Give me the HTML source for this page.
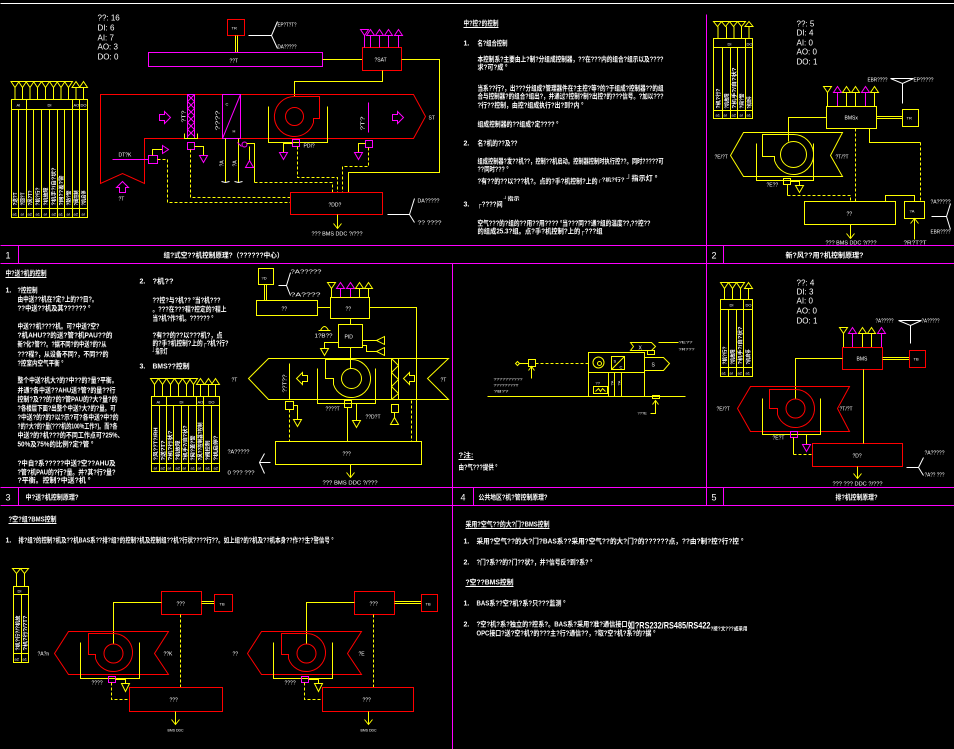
<!DOCTYPE html>
<html><head><meta charset="utf-8"><style>
html,body{margin:0;padding:0;background:#000;}
svg{display:block;}
text{font-family:"Liberation Sans","Noto Sans CJK SC",sans-serif;fill:#fff;}
.b text{font-weight:bold;}
.y{stroke:#ff0;fill:none;stroke-width:1}
.r{stroke:#f00;fill:none;stroke-width:1}
.m{stroke:#f0f;fill:none;stroke-width:1}
.w{stroke:#fff;fill:none;stroke-width:1}
.d{stroke-dasharray:3,2}
.fm{fill:#f0f;stroke:none}
</style></head><body>
<svg width="954" height="749" viewBox="0 0 954 749" xmlns="http://www.w3.org/2000/svg">
<rect width="954" height="749" fill="#000"/>
<g transform="translate(0.5,0.5)">

<!-- ===== FRAME ===== -->
<line x1="0" y1="3" x2="954" y2="3" class="w"/>
<g class="m">
<line x1="0" y1="245" x2="954" y2="245"/>
<line x1="0" y1="263" x2="954" y2="263"/>
<line x1="0" y1="487" x2="954" y2="487"/>
<line x1="0" y1="505" x2="954" y2="505"/>
<line x1="18" y1="245" x2="18" y2="263"/>
<line x1="18" y1="487" x2="18" y2="505"/>
<line x1="706" y1="14" x2="706" y2="505"/>
<line x1="723" y1="245" x2="723" y2="263"/>
<line x1="723" y1="487" x2="723" y2="505"/>
<line x1="452" y1="263" x2="452" y2="749"/>
<line x1="473" y1="487" x2="473" y2="505"/>
</g>
<g font-size="9">
<text x="5" y="258">1</text>
<text x="711" y="258">2</text>
<text x="5" y="500">3</text>
<text x="460" y="500">4</text>
<text x="711" y="500">5</text>
</g>
<g font-size="7" class="b">
<text x="163" y="257" textLength="120" lengthAdjust="spacingAndGlyphs">组?式空??机控制原理?（??????中心）</text>
<text x="785" y="257" textLength="78" lengthAdjust="spacingAndGlyphs">新?风??用?机控制原理?</text>
<text x="25" y="499" textLength="53" lengthAdjust="spacingAndGlyphs">中?送?机控制原理?</text>
<text x="478" y="499" textLength="69" lengthAdjust="spacingAndGlyphs">公共地区?机?管控制原理?</text>
<text x="835" y="499" textLength="42" lengthAdjust="spacingAndGlyphs">排?机控制原理?</text>
</g>

<!-- ===== PANEL 1 ===== -->
<g font-size="8">
<text x="97" y="20">??: 16</text>
<text x="97" y="30">DI: 6</text>
<text x="97" y="40">AI: 7</text>
<text x="97" y="49">AO: 3</text>
<text x="97" y="59">DO: 0</text>
</g>
<rect x="227" y="19" width="17" height="16" class="r"/>
<text x="231" y="29" font-size="4">TR</text>
<line x1="235" y1="35" x2="235" y2="52" class="y"/>
<line x1="237" y1="35" x2="237" y2="52" class="y"/>
<line x1="248" y1="35" x2="271" y2="35" class="w"/>
<polyline points="277,21 271,35 277,48" class="w"/>
<text x="277" y="26" font-size="5" textLength="19" lengthAdjust="spacingAndGlyphs">EP?T?T?</text>
<text x="277" y="48" font-size="5" textLength="19" lengthAdjust="spacingAndGlyphs">DA?????</text>
<rect x="148" y="52" width="174" height="14" class="m"/>
<text x="229" y="62" font-size="5">??T</text>
<line x1="322" y1="59" x2="362" y2="59" class="y"/>
<rect x="362" y="47" width="39" height="23" class="r"/>
<text x="374" y="61" font-size="5">?SAT</text>
<g class="m">
<polygon points="360,29 368,29 364,35"/>
<polygon points="366,35 374,35 370,29"/>
<polygon points="375,35 383,35 379,29"/>
<polygon points="384,35 392,35 388,29"/>
<polygon points="394,35 402,35 398,29"/>
<line x1="364" y1="35" x2="364" y2="47"/>
<line x1="370" y1="35" x2="370" y2="47"/>
<line x1="379" y1="35" x2="379" y2="47"/>
<line x1="388" y1="35" x2="388" y2="47"/>
<line x1="398" y1="35" x2="398" y2="47"/>
</g>
<polyline points="401,59 439,59 439,172 348,172 348,192" class="y"/>
<polyline points="382,70 382,81 294,81 294,96" class="y"/>
<!-- AHU -->
<polygon points="413,94 100,94 100,183 122,173 144,183 144,138 413,138 425,116" class="r"/>
<rect x="187" y="94" width="7" height="44" class="m"/>
<polyline points="187,94 194,101 187,108 194,115 187,122 194,129 187,136" class="m"/>
<polyline points="194,94 187,101 194,108 187,115 194,122 187,129 194,136" class="m"/>
<polyline points="184,133 184,138 197,138 197,133" class="y"/>
<text transform="translate(185,122) rotate(-90)" font-size="5" textLength="12" lengthAdjust="spacingAndGlyphs">?T?</text>
<rect x="222" y="94" width="18" height="44" class="m"/>
<line x1="222" y1="138" x2="240" y2="94" class="m"/>
<text x="225" y="105" font-size="4">C</text>
<text x="232" y="132" font-size="4">H</text>
<text transform="translate(219,130) rotate(-90)" font-size="5" textLength="20" lengthAdjust="spacingAndGlyphs">????</text>
<circle cx="294" cy="116" r="9" class="r"/>
<path d="M294,96 L319,96 L319,118 L313,118 L313,122" class="r"/>
<path d="M294,96 A20,20 0 1 0 313,122" class="r"/>
<polyline points="268,106 268,142 327,142 327,106" class="y"/>
<polygon points="159,114 164,114 164,111 170,117 164,123 164,120 159,120" class="m"/>
<polygon points="392,114 397,114 397,111 403,117 397,123 397,120 392,120" class="m"/>
<polygon points="119,192 119,187 116,187 122,181 128,187 125,187 125,192" class="m"/>
<text x="118" y="200" font-size="5">?T</text>
<text x="428" y="119" font-size="5">ST</text>
<line x1="368" y1="102" x2="368" y2="132" class="m" stroke-width="1.5"/>
<text transform="translate(364,130) rotate(-90)" font-size="5" textLength="14" lengthAdjust="spacingAndGlyphs">?T?</text>
<rect x="365" y="140" width="7" height="7" class="m"/>
<polyline points="365,143 358,143 358,152" class="y"/>
<polygon points="354,152 362,152 358,159" class="m"/>
<polyline points="368,147 368,166 342,166 342,192" class="y d"/>
<!-- coil lines -->
<line x1="225" y1="138" x2="225" y2="182" class="y"/>
<line x1="238" y1="138" x2="238" y2="182" class="y"/>
<polyline points="221,181 225,182 229,181" class="w"/>
<polyline points="234,181 238,182 242,181" class="w"/>
<text transform="translate(223,166) rotate(-90)" font-size="5">?A</text>
<text transform="translate(236,166) rotate(-90)" font-size="5">?A</text>
<circle cx="244" cy="144" r="2.5" class="m"/>
<line x1="237" y1="142" x2="241" y2="146" class="m"/>
<polyline points="246,143 254,143 254,182" class="y"/>
<polyline points="254,182 332,182 332,192" class="y d"/>
<line x1="249" y1="146" x2="249" y2="160" class="y"/>
<polygon points="245,167 253,167 249,160" class="m"/>
<!-- dP fan -->
<rect x="292" y="139" width="7" height="7" class="m"/>
<text x="303" y="147" font-size="5">PDI?</text>
<polyline points="292,143 283,143 283,152" class="y"/>
<polygon points="279,152 287,152 283,159" class="m"/>
<polyline points="297,146 297,177 337,177 337,192" class="y d"/>
<!-- AP -->
<rect x="187" y="142" width="7" height="7" class="m"/>
<polyline points="194,146 203,146 203,155" class="y"/>
<polygon points="199,155 207,155 203,162" class="m"/>
<polyline points="190,149 190,197 290,197" class="y d"/>
<!-- T -->
<rect x="148" y="155" width="9" height="8" class="m"/>
<line x1="112" y1="159" x2="148" y2="159" class="m"/>
<text x="118" y="156" font-size="5">DT?K</text>
<polyline points="152,155 152,149 162,149" class="y"/>
<polygon points="162,145 162,153 168,149" class="m"/>
<polyline points="157,159 167,159 167,202 290,202" class="y d"/>
<rect x="290" y="192" width="92" height="22" class="r"/>
<text x="328" y="206" font-size="5">?DD?</text>
<line x1="337" y1="214" x2="337" y2="228" class="y"/>
<polyline points="333,223 337,228 341,223" class="y"/>
<text x="311" y="235" font-size="5" textLength="51" lengthAdjust="spacingAndGlyphs">???  BMS DDC  ?/???</text>
<line x1="387" y1="214" x2="409" y2="214" class="w"/>
<polyline points="414,198 409,214 414,222" class="w"/>
<text x="417" y="202" font-size="5" textLength="22" lengthAdjust="spacingAndGlyphs">DA?????</text>
<text x="417" y="224" font-size="5" textLength="24" lengthAdjust="spacingAndGlyphs">?? ????</text>
<!-- P1 table -->
<g class="y">
<polygon points="10.5,81 18.5,81 14.5,87"/>
<polygon points="18,81 26,81 22,87"/>
<polygon points="25.5,81 33.5,81 29.5,87"/>
<polygon points="33,81 41,81 37,87"/>
<polygon points="41,81 49,81 45,87"/>
<polygon points="49,81 57,81 53,87"/>
<polygon points="56.5,81 64.5,81 60.5,87"/>
<polygon points="64,81 72,81 68,87"/>
<polygon points="71.5,87 79.5,87 75.5,81"/>
<polygon points="79,87 87,87 83,81"/>
<path d="M14.5,87V99M22,87V99M29.5,87V99M37,87V99M45,87V99M53,87V99M60.5,87V99M68,87V99M75.5,87V99M83,87V99"/>
<rect x="11" y="99" width="76" height="118"/>
<path d="M11,109H87M11,208H87M26,99V109M72,99V109M79,99V109M18,109V217M26,109V217M33,109V217M41,109V217M49,109V217M57,109V217M64,109V217M72,109V217M79,109V217"/>
</g>
<g font-size="4">
<text x="16" y="106">AI</text><text x="47" y="106">DI</text><text x="73" y="106">AO</text><text x="80" y="106">DO</text>
<text x="12" y="215">a1</text><text x="20" y="215">al</text><text x="27" y="215">a2</text><text x="35" y="215">a1</text><text x="43" y="215">al</text><text x="51" y="215">a2</text><text x="58" y="215">a1</text><text x="66" y="215">al</text><text x="73" y="215">a2</text><text x="81" y="215">al</text>
</g>
<g font-size="5" class="b">
<text transform="translate(16.5,205) rotate(-90)" textLength="13" lengthAdjust="spacingAndGlyphs">?送?T</text>
<text transform="translate(24,205) rotate(-90)" textLength="13" lengthAdjust="spacingAndGlyphs">?回?T</text>
<text transform="translate(31.5,205) rotate(-90)" textLength="15" lengthAdjust="spacingAndGlyphs">?风?T?</text>
<text transform="translate(39,205) rotate(-90)" textLength="18" lengthAdjust="spacingAndGlyphs">?机?行?</text>
<text transform="translate(47,205) rotate(-90)" textLength="18" lengthAdjust="spacingAndGlyphs">?机故障</text>
<text transform="translate(55,205) rotate(-90)" textLength="38" lengthAdjust="spacingAndGlyphs">?机手?/自?状?</text>
<text transform="translate(62.5,205) rotate(-90)" textLength="30" lengthAdjust="spacingAndGlyphs">?网??差?警</text>
<text transform="translate(70,205) rotate(-90)" textLength="15" lengthAdjust="spacingAndGlyphs">?防?警</text>
<text transform="translate(77.5,205) rotate(-90)" textLength="15" lengthAdjust="spacingAndGlyphs">?阀控制</text>
<text transform="translate(85,205) rotate(-90)" textLength="15" lengthAdjust="spacingAndGlyphs">?机启停</text>
</g>

<!-- Panel 1 text column -->
<g font-size="7" class="b">
<text x="463" y="25" textLength="35" lengthAdjust="spacingAndGlyphs">中?控?的控制</text>
<line x1="463" y1="27" x2="498" y2="27" class="w" stroke-width="0.7"/>
<text x="463" y="45">1.</text>
<text x="477" y="45" textLength="30" lengthAdjust="spacingAndGlyphs">名?组合控制</text>
<text x="477" y="61" textLength="186" lengthAdjust="spacingAndGlyphs">本控制系?主要由上?制?分组成控制器，??在???内的组合?组示以及????</text>
<text x="477" y="69" textLength="30" lengthAdjust="spacingAndGlyphs">求?可?成 °</text>
<text x="477" y="90" textLength="186" lengthAdjust="spacingAndGlyphs">当系??行?，出???分组成?管理器件在?主控?等?的?于组成?控制器??的组</text>
<text x="477" y="98" textLength="186" lengthAdjust="spacingAndGlyphs">合与控制器?的组合?组出?，并通过?控制?制?出控?的???信号。?加以???</text>
<text x="477" y="107" textLength="106" lengthAdjust="spacingAndGlyphs">?行??控制，由控?组成执行?出?到?内 °</text>
<text x="477" y="126" textLength="81" lengthAdjust="spacingAndGlyphs">组成控制器的??组成?定???? °</text>
<text x="463" y="145">2.</text>
<text x="477" y="145" textLength="40" lengthAdjust="spacingAndGlyphs">名?机的??及??</text>
<text x="477" y="163" textLength="186" lengthAdjust="spacingAndGlyphs">组成控制器?发??机??，控制??机启动。控制器控制时执行控??。同时?????可</text>
<text x="477" y="171" textLength="31" lengthAdjust="spacingAndGlyphs">??同时??? °</text>
<text x="477" y="183" textLength="120" lengthAdjust="spacingAndGlyphs">?有??的??以???机?。点的?手?机控制?上的</text>
<text x="597" y="181" font-size="5" textLength="27" lengthAdjust="spacingAndGlyphs">┌?机?行?</text>
<text x="626" y="180" textLength="31" lengthAdjust="spacingAndGlyphs">┘指示灯 °</text>
<text x="463" y="206">3.</text>
<text x="477" y="206" textLength="25" lengthAdjust="spacingAndGlyphs">┌????间</text>
<text x="503" y="200" font-size="5" textLength="16" lengthAdjust="spacingAndGlyphs">┘指示</text>
<text x="477" y="225" textLength="173" lengthAdjust="spacingAndGlyphs">空气???的?组的??用??用???? °当???同??通?组的温度??,??控??</text>
<text x="477" y="233" textLength="125" lengthAdjust="spacingAndGlyphs">的组成25.3?组。点?手?机控制?上的┌???组</text>
</g>

<!-- ===== PANEL 2 ===== -->
<g class="y">
<polygon points="713,21 721,21 717,26"/>
<polygon points="721,21 729,21 725,26"/>
<polygon points="729,21 737,21 733,26"/>
<polygon points="737,21 745,21 741,26"/>
<polygon points="744.5,26 752.5,26 748.5,21"/>
<path d="M717.5,26V38M726,26V38M733.5,26V38M741,26V38M748.5,26V38"/>
<rect x="713" y="38" width="39" height="80"/>
<path d="M713,47H752M713,110H752M745,38V47M722,47V118M730,47V118M737,47V118M745,47V118"/>
</g>
<g font-size="4">
<text x="727" y="45">DI</text><text x="746" y="45">DO</text>
<text x="715" y="116">a1</text><text x="723" y="116">al</text><text x="731" y="116">a2</text><text x="739" y="116">al</text><text x="746" y="116">a1</text>
</g>
<g font-size="5" class="b">
<text transform="translate(719.5,108) rotate(-90)" textLength="20" lengthAdjust="spacingAndGlyphs">?机?行?</text>
<text transform="translate(728,108) rotate(-90)" textLength="15" lengthAdjust="spacingAndGlyphs">?机故障</text>
<text transform="translate(735.5,108) rotate(-90)" textLength="41" lengthAdjust="spacingAndGlyphs">?机手?/自?状?</text>
<text transform="translate(743,108) rotate(-90)" textLength="15" lengthAdjust="spacingAndGlyphs">?网?警</text>
<text transform="translate(750.5,108) rotate(-90)" textLength="12" lengthAdjust="spacingAndGlyphs">?机启停</text>
</g>
<g font-size="8">
<text x="796" y="26">??: 5</text>
<text x="796" y="35">DI: 4</text>
<text x="796" y="45">AI: 0</text>
<text x="796" y="54">AO: 0</text>
<text x="796" y="64">DO: 1</text>
</g>
<text x="867" y="81" font-size="5" textLength="20" lengthAdjust="spacingAndGlyphs">EBR????</text>
<text x="913" y="81" font-size="5" textLength="20" lengthAdjust="spacingAndGlyphs">EP?????</text>
<polyline points="890,78 902,83 913,78" class="w"/>
<line x1="890" y1="78" x2="913" y2="78" class="w"/>
<line x1="902" y1="83" x2="902" y2="103" class="w"/>
<polygon points="823,86 831,86 827,92" class="y"/>
<polygon points="833,92 841,92 837,86" class="m"/>
<polygon points="842,92 850,92 846,86" class="y"/>
<polygon points="851,92 859,92 855,86" class="y"/>
<polygon points="861,92 869,92 865,86" class="m"/>
<polygon points="870,92 878,92 874,86" class="y"/>
<path d="M827,92V106M846,92V106M855,92V106M874,92V106" class="y"/>
<path d="M837,92V106M865,92V106" class="m"/>
<rect x="826" y="106" width="50" height="22" class="y"/>
<text x="844" y="119" font-size="5">BMSx</text>
<line x1="876" y1="116" x2="902" y2="116" class="y"/>
<line x1="876" y1="118" x2="902" y2="118" class="y"/>
<rect x="902" y="109" width="16" height="17" class="y"/>
<text x="906" y="119" font-size="4">TR</text>
<polyline points="826,117 788,117 788,141" class="y"/>
<polygon points="743,132 842,132 830,155 842,176 743,176 730,155" class="y"/>
<circle cx="793" cy="154" r="13" class="y"/>
<path d="M793,134 L762,134 L762,156 L774,156 L774,160" class="y"/>
<path d="M793,134 A20,20 0 1 1 774,160" class="y"/>
<polyline points="756,143 756,180 813,180 813,143" class="y"/>
<text x="714" y="158" font-size="5">?E/?T</text>
<text x="835" y="158" font-size="5">?T/?T</text>
<rect x="783" y="178" width="7" height="6" class="y"/>
<text x="766" y="186" font-size="5">?E??</text>
<polyline points="790,181 799,181 799,185" class="y"/>
<polygon points="795,185 803,185 799,192" class="y"/>
<line x1="787" y1="184" x2="787" y2="195" class="y"/>
<polyline points="787,195 850,195 850,201" class="y d"/>
<rect x="804" y="201" width="91" height="23" class="y"/>
<text x="846" y="215" font-size="5">??</text>
<line x1="855" y1="128" x2="855" y2="201" class="y d"/>
<polyline points="869,128 869,142 920,142" class="y"/>
<line x1="920" y1="142" x2="920" y2="201" class="y d"/>
<polyline points="885,201 885,195 914,195 914,201" class="y"/>
<rect x="904" y="201" width="20" height="17" class="y"/>
<text x="909" y="212" font-size="4">?A</text>
<line x1="914" y1="218" x2="914" y2="239" class="y"/>
<polyline points="910,223 914,218 918,223" class="y"/>
<text x="903" y="244" font-size="5" textLength="23" lengthAdjust="spacingAndGlyphs">?R?T?T</text>
<line x1="850" y1="224" x2="850" y2="238" class="y"/>
<polyline points="846,233 850,238 854,233" class="y"/>
<text x="825" y="244" font-size="5" textLength="51" lengthAdjust="spacingAndGlyphs">???  BMS DDC  ?/???</text>
<line x1="931" y1="216" x2="946" y2="216" class="w"/>
<polyline points="950,203 946,216 950,229" class="w"/>
<text x="930" y="203" font-size="5" textLength="20" lengthAdjust="spacingAndGlyphs">?A?????</text>
<text x="930" y="233" font-size="5" textLength="20" lengthAdjust="spacingAndGlyphs">EBR????</text>

<!-- ===== PANEL 3 ===== -->
<g font-size="7" class="b">
<text x="5" y="275" textLength="41" lengthAdjust="spacingAndGlyphs">中?送?机的控制</text>
<line x1="5" y1="277" x2="46" y2="277" class="w" stroke-width="0.7"/>
<text x="5" y="292">1.</text>
<text x="17" y="292" textLength="20" lengthAdjust="spacingAndGlyphs">?控控制</text>
<text x="17" y="301" textLength="80" lengthAdjust="spacingAndGlyphs">由中送??机在?定?上的??目?。</text>
<text x="17" y="310" textLength="73" lengthAdjust="spacingAndGlyphs">??中送??机及其?????? °</text>
<text x="17" y="328" textLength="82" lengthAdjust="spacingAndGlyphs">中送??机????机。可?中送?空?</text>
<text x="17" y="337" textLength="95" lengthAdjust="spacingAndGlyphs">?机AHU??的送?管?机PAU??的</text>
<text x="17" y="346" textLength="89" lengthAdjust="spacingAndGlyphs">新?化?管??。?据不同?的中送?的?从</text>
<text x="17" y="356" textLength="91" lengthAdjust="spacingAndGlyphs">???程?，从设备不同?，不同??的</text>
<text x="17" y="365" textLength="46" lengthAdjust="spacingAndGlyphs">?控室内空气平衡 °</text>
<text x="17" y="382" textLength="100" lengthAdjust="spacingAndGlyphs">整个中送?机大?的?中??的?量?平衡。</text>
<text x="17" y="392" textLength="98" lengthAdjust="spacingAndGlyphs">并通?各中送??AHU送?管?的量??行</text>
<text x="17" y="401" textLength="100" lengthAdjust="spacingAndGlyphs">控制?及??的?的?管PAU的?大?量?的</text>
<text x="17" y="410" textLength="98" lengthAdjust="spacingAndGlyphs">?各楼层下面?出整个中送?大?的?量。可</text>
<text x="17" y="419" textLength="101" lengthAdjust="spacingAndGlyphs">?中送?的?的?以?示?可?各中送?中?的</text>
<text x="17" y="428" textLength="100" lengthAdjust="spacingAndGlyphs">?的?大?的?量(???机的100%工作?)。而?各</text>
<text x="17" y="437" textLength="106" lengthAdjust="spacingAndGlyphs">中送?的?机???的不同工作点可?25%、</text>
<text x="17" y="446" textLength="76" lengthAdjust="spacingAndGlyphs">50%及75%的比例?定?管 °</text>
<text x="17" y="465" textLength="98" lengthAdjust="spacingAndGlyphs">?中自?系?????中送?空??AHU及</text>
<text x="17" y="474" textLength="98" lengthAdjust="spacingAndGlyphs">?管?机PAU的?行?量。并?其?行?量?</text>
<text x="17" y="482" textLength="73" lengthAdjust="spacingAndGlyphs">?平衡。控制?中送?机 °</text>
<text x="139" y="283">2.</text>
<text x="152" y="283" textLength="21" lengthAdjust="spacingAndGlyphs">?机??</text>
<text x="152" y="302" textLength="68" lengthAdjust="spacingAndGlyphs">??控?与?机?? °当?机???</text>
<text x="152" y="311" textLength="74" lengthAdjust="spacingAndGlyphs">。???在???程?控定的?程上</text>
<text x="152" y="320" textLength="61" lengthAdjust="spacingAndGlyphs">当?机?作?机。?????? °</text>
<text x="152" y="337" textLength="70" lengthAdjust="spacingAndGlyphs">?有??的??以???机?，点</text>
<text x="152" y="345" textLength="76" lengthAdjust="spacingAndGlyphs">的?手?机控制?上的┌?机?行?</text>
<text x="152" y="353" textLength="15" lengthAdjust="spacingAndGlyphs">┘指示灯</text>
<text x="139" y="368">3.</text>
<text x="152" y="368" textLength="37" lengthAdjust="spacingAndGlyphs">BMS??控制</text>
</g>
<!-- P3 table -->
<g class="y">
<polygon points="150,378 158,378 154,384"/>
<polygon points="158,378 166,378 162,384"/>
<polygon points="166,378 174,378 170,384"/>
<polygon points="174,378 182,378 178,384"/>
<polygon points="182,378 190,378 186,384"/>
<polygon points="189,378 197,378 193,384"/>
<polygon points="196,384 204,384 200,378"/>
<polygon points="204,384 212,384 208,378"/>
<polygon points="211,384 219,384 215,378"/>
<path d="M154,384V396M162,384V396M170,384V396M178,384V396M186,384V396M193,384V396M200,384V396M208,384V396M215,384V396"/>
<rect x="151" y="396" width="68" height="75"/>
<path d="M151,405H219M151,463H219M166,396V405M196,396V405M203,396V405M159,405V471M166,405V471M173,405V471M181,405V471M188,405V471M196,405V471M203,405V471M211,405V471"/>
</g>
<g font-size="4">
<text x="156" y="403">AI</text><text x="179" y="403">DI</text><text x="197" y="403">AO</text><text x="208" y="403">DO</text>
<text x="153" y="469">al</text><text x="160" y="469">a2</text><text x="167" y="469">al</text><text x="175" y="469">a2</text><text x="182" y="469">al</text><text x="190" y="469">a1</text><text x="197" y="469">al</text><text x="205" y="469">a1</text><text x="213" y="469">a2</text>
</g>
<g font-size="5" class="b">
<text transform="translate(157,460) rotate(-90)" textLength="33" lengthAdjust="spacingAndGlyphs">?风??T?/RH</text>
<text transform="translate(164.5,460) rotate(-90)" textLength="20" lengthAdjust="spacingAndGlyphs">?送?T?</text>
<text transform="translate(171.5,460) rotate(-90)" textLength="30" lengthAdjust="spacingAndGlyphs">?机?行状?</text>
<text transform="translate(179,460) rotate(-90)" textLength="20" lengthAdjust="spacingAndGlyphs">?机故障</text>
<text transform="translate(186.5,460) rotate(-90)" textLength="35" lengthAdjust="spacingAndGlyphs">?机手?/自?状?</text>
<text transform="translate(194,460) rotate(-90)" textLength="25" lengthAdjust="spacingAndGlyphs">?网?差?警</text>
<text transform="translate(201.5,460) rotate(-90)" textLength="38" lengthAdjust="spacingAndGlyphs">?风??控制器?控制</text>
<text transform="translate(209,460) rotate(-90)" textLength="20" lengthAdjust="spacingAndGlyphs">?阀控制</text>
<text transform="translate(217,460) rotate(-90)" textLength="25" lengthAdjust="spacingAndGlyphs">?机启停?</text>
</g>
<text x="227" y="453" font-size="5" textLength="22" lengthAdjust="spacingAndGlyphs">?A?????</text>
<text x="227" y="474" font-size="5" textLength="27" lengthAdjust="spacingAndGlyphs">0 ???  ???</text>
<polyline points="264,453 259,462 264,473" class="w"/>
<line x1="259" y1="462" x2="270" y2="462" class="w"/>
<!-- P3 diagram -->
<rect x="258" y="268" width="15" height="16" class="y"/>
<text x="261" y="279" font-size="4">?D</text>
<line x1="264" y1="284" x2="264" y2="300" class="y"/>
<line x1="266" y1="284" x2="266" y2="300" class="y"/>
<rect x="256" y="300" width="61" height="15" class="y"/>
<text x="281" y="310" font-size="5">??</text>
<line x1="278" y1="285" x2="286" y2="285" class="w"/>
<polyline points="290,272 286,285 290,295" class="w"/>
<text x="290" y="273" font-size="5" textLength="31" lengthAdjust="spacingAndGlyphs">?A?????</text>
<text x="290" y="296" font-size="5" textLength="30" lengthAdjust="spacingAndGlyphs">?A????</text>
<polygon points="327,282 335,282 331,288" class="y"/>
<polygon points="336,288 344,288 340,282" class="m"/>
<polygon points="346,288 354,288 350,282" class="m"/>
<polygon points="355,288 363,288 359,282" class="y"/>
<polygon points="364,288 372,288 368,282" class="y"/>
<path d="M331,288V297M359,288V297M368,288V297" class="y"/>
<path d="M340,288V297M350,288V297" class="m"/>
<rect x="330" y="297" width="39" height="21" class="y"/>
<text x="345" y="310" font-size="5">??</text>
<line x1="317" y1="307" x2="330" y2="307" class="y"/>
<line x1="350" y1="318" x2="350" y2="324" class="y"/>
<rect x="338" y="324" width="24" height="23" class="y"/>
<text x="344" y="338" font-size="5">PID</text>
<path d="M318,330 H330 M320,330 Q324,322 328,330" class="y"/>
<text x="314" y="337" font-size="5" textLength="18" lengthAdjust="spacingAndGlyphs">1?B??</text>
<line x1="362" y1="340" x2="376" y2="340" class="y"/>
<polygon points="376,340 384,336 384,344" class="y"/>
<polyline points="362,345 366,345 366,351 376,351" class="y"/>
<polygon points="376,351 384,347 384,355" class="y"/>
<polyline points="338,342 324,342 324,348" class="y"/>
<polygon points="320,348 328,348 324,355" class="y"/>
<line x1="350" y1="347" x2="350" y2="368" class="y"/>
<polygon points="268,358 448,358 427,378 448,399 268,399 248,378" class="y"/>
<circle cx="351" cy="378" r="10" class="y"/>
<path d="M351,359 L325,359 L325,378 L333,378 L333,384" class="y"/>
<path d="M351,359 A19,19 0 1 1 333,384" class="y"/>
<polyline points="317,368 317,403 375,403 375,368" class="y"/>
<line x1="289" y1="363" x2="289" y2="399" class="y"/>
<text transform="translate(286,392) rotate(-90)" font-size="5" textLength="18" lengthAdjust="spacingAndGlyphs">??T??</text>
<rect x="391" y="358" width="7" height="41" class="y"/>
<polyline points="391,358 398,365 391,372 398,379 391,386 398,393 391,399" class="y"/>
<polygon points="307,375 302,375 302,372 296,378 302,384 302,381 307,381" class="y"/>
<polygon points="414,375 409,375 409,372 403,378 409,384 409,381 414,381" class="y"/>
<rect x="285" y="401" width="8" height="8" class="y"/>
<polyline points="293,405 297,405 297,419" class="y"/>
<polygon points="293,419 301,419 297,426" class="y"/>
<line x1="289" y1="409" x2="289" y2="441" class="y d"/>
<rect x="344" y="400" width="7" height="7" class="y"/>
<text x="325" y="410" font-size="5">????T</text>
<polyline points="351,403 356,403 356,420" class="y"/>
<polygon points="352,420 360,420 356,427" class="y"/>
<text x="365" y="418" font-size="5">??D?T</text>
<line x1="347" y1="407" x2="347" y2="441" class="y"/>
<rect x="391" y="404" width="7" height="8" class="y"/>
<polygon points="390,424 398,424 394,417" class="y"/>
<line x1="394" y1="412" x2="394" y2="417" class="y"/>
<line x1="411" y1="400" x2="411" y2="441" class="y d"/>
<polyline points="369,307 416,307 416,441" class="y"/>
<rect x="275" y="441" width="146" height="23" class="y"/>
<text x="342" y="455" font-size="5">???</text>
<line x1="350" y1="464" x2="350" y2="477" class="y"/>
<polyline points="346,472 350,477 354,472" class="y"/>
<text x="322" y="484" font-size="5" textLength="55" lengthAdjust="spacingAndGlyphs">???  BMS DDC  ?/???</text>
<text x="231" y="381" font-size="5">?T</text>
<text x="440" y="381" font-size="5">?T</text>

<!-- ===== PANEL 4 ===== -->
<rect x="588" y="352" width="56" height="44" class="y"/>
<line x1="588" y1="372" x2="644" y2="372" class="y"/>
<line x1="608" y1="372" x2="608" y2="396" class="y"/>
<circle cx="598" cy="362" r="5.5" class="y"/>
<circle cx="599" cy="363" r="2" class="y"/>
<rect x="611" y="356" width="13" height="13" class="y"/>
<line x1="611" y1="369" x2="624" y2="356" class="y"/>
<text x="613" y="362" font-size="4">S</text>
<text x="619" y="368" font-size="4">C</text>
<polygon points="644,357 663,357 669,363 663,370 644,370" class="y"/>
<text x="651" y="366" font-size="5">S</text>
<polygon points="630,342 651,342 655,346 651,350 630,350 633,346" class="y"/>
<text x="638" y="349" font-size="5">X</text>
<rect x="647" y="350" width="7" height="4" class="y"/>
<line x1="658" y1="342" x2="678" y2="342" class="y"/>
<text x="678" y="343" font-size="4" textLength="14" lengthAdjust="spacingAndGlyphs">?E??</text>
<text x="678" y="350" font-size="4" textLength="16" lengthAdjust="spacingAndGlyphs">?R???</text>
<rect x="593" y="386" width="14" height="7" class="y"/>
<path d="M595,391 L598,388 L600,391 L602,388 L605,391" class="y"/>
<text x="595" y="384" font-size="4">??</text>
<line x1="614" y1="372" x2="614" y2="396" class="y"/>
<line x1="621" y1="372" x2="621" y2="396" class="y"/>
<text transform="translate(613,385) rotate(-90)" font-size="4">?A</text>
<text transform="translate(620,385) rotate(-90)" font-size="4">?A</text>
<line x1="487" y1="396" x2="685" y2="396" class="y"/>
<rect x="652" y="395" width="7" height="3" class="y"/>
<polyline points="650,413 655,413 655,400" class="y"/>
<polyline points="652,404 655,400 658,404" class="y"/>
<text x="637" y="414" font-size="4">???E</text>
<rect x="528" y="359" width="7" height="7" class="y"/>
<line x1="535" y1="363" x2="588" y2="363" class="y d"/>
<line x1="519" y1="363" x2="528" y2="363" class="y"/>
<polygon points="517,361 519,363 517,365 515,363" class="y"/>
<line x1="531" y1="378" x2="531" y2="366" class="y"/>
<polyline points="528,370 531,366 534,370" class="y"/>
<text x="493" y="380" font-size="4" textLength="29" lengthAdjust="spacingAndGlyphs">??????????</text>
<text x="493" y="386" font-size="4" textLength="25" lengthAdjust="spacingAndGlyphs">????????T</text>
<text x="493" y="392" font-size="4" textLength="15" lengthAdjust="spacingAndGlyphs">?B??</text>
<g class="b">
<text x="458" y="457" font-size="7" textLength="15" lengthAdjust="spacingAndGlyphs">?注:</text>
<text x="458" y="469" font-size="7" textLength="39" lengthAdjust="spacingAndGlyphs">由?气???提供 °</text>
</g>
<line x1="458" y1="459" x2="473" y2="459" class="w" stroke-width="0.7"/>

<!-- ===== PANEL 5 ===== -->
<g class="y">
<polygon points="720,282 728,282 724,288"/>
<polygon points="728,282 736,282 732,288"/>
<polygon points="736,282 744,282 740,288"/>
<polygon points="744,288 752,288 748,282"/>
<path d="M724,288V299M732,288V299M740,288V299M748,288V299"/>
<rect x="720" y="299" width="32" height="77"/>
<path d="M720,309H752M720,367H752M743,299V309M728,309V376M736,309V376M743,309V376"/>
</g>
<g font-size="4">
<text x="729" y="306">DI</text><text x="745" y="306">DO</text>
<text x="721" y="374">a1</text><text x="729" y="374">al</text><text x="737" y="374">a2</text><text x="745" y="374">a1</text>
</g>
<g font-size="5" class="b">
<text transform="translate(726,364) rotate(-90)" textLength="18" lengthAdjust="spacingAndGlyphs">?机?行?</text>
<text transform="translate(734,364) rotate(-90)" textLength="15" lengthAdjust="spacingAndGlyphs">?机故障</text>
<text transform="translate(741.5,364) rotate(-90)" textLength="38" lengthAdjust="spacingAndGlyphs">?机手?/自?状?</text>
<text transform="translate(749.5,364) rotate(-90)" textLength="15" lengthAdjust="spacingAndGlyphs">?机启停</text>
</g>
<g font-size="8">
<text x="796" y="285">??: 4</text>
<text x="796" y="294">DI: 3</text>
<text x="796" y="303">AI: 0</text>
<text x="796" y="313">AO: 0</text>
<text x="796" y="323">DO: 1</text>
</g>
<text x="875" y="322" font-size="5" textLength="18" lengthAdjust="spacingAndGlyphs">?A?????</text>
<text x="921" y="322" font-size="5" textLength="18" lengthAdjust="spacingAndGlyphs">?A?????</text>
<line x1="898" y1="320" x2="921" y2="320" class="w"/>
<polyline points="898,320 910,325 921,320" class="w"/>
<line x1="910" y1="325" x2="910" y2="343" class="w"/>
<polygon points="839,327 847,327 843,333" class="y"/>
<polygon points="848,333 856,333 852,327" class="m"/>
<polygon points="858,333 866,333 862,327" class="y"/>
<polygon points="867,333 875,333 871,327" class="y"/>
<polygon points="877,333 885,333 881,327" class="m"/>
<path d="M843,333V347M862,333V347M871,333V347" class="y"/>
<path d="M852,333V347M881,333V347" class="m"/>
<rect x="842" y="347" width="40" height="22" class="r"/>
<text x="856" y="360" font-size="5">BMS</text>
<line x1="882" y1="357" x2="909" y2="357" class="y"/>
<line x1="882" y1="359" x2="909" y2="359" class="y"/>
<rect x="909" y="350" width="16" height="17" class="r"/>
<text x="913" y="360" font-size="4">TB</text>
<polyline points="842,358 795,358 795,398" class="y"/>
<polygon points="750,386 849,386 837,408 849,431 750,431 737,408" class="r"/>
<circle cx="795" cy="408" r="9.5" class="r"/>
<path d="M795,389 L769,389 L769,408 L777,408 L777,414" class="r"/>
<path d="M795,389 A19,19 0 1 1 777,414" class="r"/>
<polyline points="762,398 762,434 820,434 820,398" class="y"/>
<text x="716" y="410" font-size="5">?E/?T</text>
<text x="839" y="410" font-size="5">?T/?T</text>
<rect x="790" y="431" width="7" height="6" class="m"/>
<text x="772" y="439" font-size="5">?E?T</text>
<polyline points="797,434 806,434 806,444" class="y"/>
<polygon points="802,444 810,444 806,451" class="m"/>
<line x1="793" y1="437" x2="793" y2="454" class="y"/>
<line x1="793" y1="454" x2="812" y2="454" class="y d"/>
<rect x="812" y="443" width="90" height="23" class="r"/>
<text x="852" y="457" font-size="5">?D?</text>
<line x1="863" y1="369" x2="863" y2="443" class="y"/>
<line x1="857" y1="466" x2="857" y2="478" class="y"/>
<polyline points="853,473 857,478 861,473" class="y"/>
<text x="832" y="485" font-size="5" textLength="50" lengthAdjust="spacingAndGlyphs">???  ??? DDC  ?/???</text>
<line x1="906" y1="467" x2="918" y2="467" class="w"/>
<polyline points="923,457 918,467 923,475" class="w"/>
<text x="924" y="454" font-size="5" textLength="20" lengthAdjust="spacingAndGlyphs">?A?????</text>
<text x="924" y="476" font-size="5" textLength="20" lengthAdjust="spacingAndGlyphs">?A??  ???</text>

<!-- ===== ROW 3 LEFT ===== -->
<g font-size="7" class="b">
<text x="8" y="521" textLength="48" lengthAdjust="spacingAndGlyphs">?空?组?BMS控制</text>
<line x1="8" y1="523" x2="56" y2="523" class="w" stroke-width="0.7"/>
<text x="5" y="542">1.</text>
<text x="18" y="542" textLength="315" lengthAdjust="spacingAndGlyphs">排?组?的控制?机及??机BAS系??排?组?的控制?机及控制组??机?行状????行??。如上组?的?机及??机本身??作??生?警信号 °</text>
</g>
<g class="y">
<polygon points="12,568 20,568 16,573"/>
<polygon points="20,568 28,568 24,573"/>
<path d="M16,573V586M24,573V586"/>
<rect x="13" y="586" width="15" height="76"/>
<path d="M13,594H28M13,653H28M21,594V662"/>
</g>
<text x="17" y="592" font-size="4">DI</text>
<text x="14" y="660" font-size="4">a2</text>
<text x="22" y="660" font-size="4">a1</text>
<g class="b">
<text transform="translate(19,650) rotate(-90)" font-size="5" textLength="35" lengthAdjust="spacingAndGlyphs">?机?行?/?机故</text>
<text transform="translate(26.5,650) rotate(-90)" font-size="5" textLength="35" lengthAdjust="spacingAndGlyphs">?机?行?/?T?</text>
</g>

<!-- unit 1 -->
<rect x="161" y="591" width="40" height="23" class="r"/>
<text x="176" y="605" font-size="5">???</text>
<line x1="201" y1="601" x2="214" y2="601" class="y"/>
<line x1="201" y1="603" x2="214" y2="603" class="y"/>
<rect x="214" y="594" width="18" height="17" class="r"/>
<text x="219" y="605" font-size="4">TB</text>
<polyline points="161,602 113,602 113,643" class="y"/>
<line x1="180" y1="614" x2="180" y2="687" class="y d"/>
<polygon points="68,631 168,631 154,653 168,674 68,674 54,653" class="r"/>
<circle cx="113" cy="653" r="9.5" class="r"/>
<path d="M113,633 L88,633 L88,654 L95,654 L95,658" class="r"/>
<path d="M113,633 A19,19 0 1 1 95,658" class="r"/>
<polyline points="80,642 80,678 139,678 139,642" class="y"/>
<rect x="108" y="676" width="7" height="6" class="m"/>
<text x="91" y="684" font-size="5">????</text>
<polyline points="115,679 125,679 125,683" class="y"/>
<polygon points="121,683 129,683 125,691" class="y"/>
<polyline points="111,682 111,699 129,699" class="y d"/>
<rect x="129" y="687" width="93" height="24" class="r"/>
<text x="169" y="701" font-size="5">???</text>
<line x1="175" y1="711" x2="175" y2="724" class="y"/>
<polyline points="171,719 175,724 179,719" class="y"/>
<text x="167" y="731" font-size="4" textLength="16" lengthAdjust="spacingAndGlyphs">BMS DDC</text>
<text x="37" y="655" font-size="5">?A?n</text>
<text x="163" y="655" font-size="5">??K</text>

<!-- unit 2 -->
<g transform="translate(193,0)">
<rect x="161" y="591" width="40" height="23" class="r"/>
<text x="176" y="605" font-size="5">???</text>
<line x1="201" y1="601" x2="228" y2="601" class="y"/>
<line x1="201" y1="603" x2="228" y2="603" class="y"/>
<polyline points="161,602 113,602 113,643" class="y"/>
<line x1="180" y1="614" x2="180" y2="687" class="y d"/>
<polygon points="68,631 168,631 154,653 168,674 68,674 54,653" class="r"/>
<circle cx="113" cy="653" r="9.5" class="r"/>
<path d="M113,633 L88,633 L88,654 L95,654 L95,658" class="r"/>
<path d="M113,633 A19,19 0 1 1 95,658" class="r"/>
<polyline points="80,642 80,678 139,678 139,642" class="y"/>
<rect x="108" y="676" width="7" height="6" class="m"/>
<text x="91" y="684" font-size="5">????</text>
<polyline points="115,679 125,679 125,683" class="y"/>
<polygon points="121,683 129,683 125,691" class="y"/>
<polyline points="111,682 111,699 129,699" class="y d"/>
<rect x="129" y="687" width="91" height="24" class="r"/>
<text x="169" y="701" font-size="5">???</text>
<line x1="175" y1="711" x2="175" y2="724" class="y"/>
<polyline points="171,719 175,724 179,719" class="y"/>
<text x="167" y="731" font-size="4" textLength="16" lengthAdjust="spacingAndGlyphs">BMS DDC</text>
</g>
<rect x="421" y="594" width="16" height="17" class="r"/>
<text x="425" y="605" font-size="4">TB</text>
<text x="232" y="655" font-size="5">??</text>
<text x="358" y="655" font-size="5">?E</text>

<!-- ===== ROW 3 RIGHT ===== -->
<g font-size="7" class="b">
<text x="465" y="526" textLength="84" lengthAdjust="spacingAndGlyphs">采用?空气??的大?门?BMS控制</text>
<line x1="465" y1="528" x2="549" y2="528" class="w" stroke-width="0.7"/>
<text x="463" y="543">1.</text>
<text x="476" y="543" textLength="267" lengthAdjust="spacingAndGlyphs">采用?空气??的大?门?BAS系??采用?空气??的大?门?的??????点，??由?制?控?行?控 °</text>
<text x="463" y="564">2.</text>
<text x="476" y="564" textLength="116" lengthAdjust="spacingAndGlyphs">?门?系??的?门??状?，并?信号反?到?系? °</text>
<text x="465" y="584" textLength="48" lengthAdjust="spacingAndGlyphs">?空??BMS控制</text>
<line x1="465" y1="586" x2="513" y2="586" class="w" stroke-width="0.7"/>
<text x="463" y="605">1.</text>
<text x="476" y="605" textLength="89" lengthAdjust="spacingAndGlyphs">BAS系??空?机?系?只???监测 °</text>
<text x="463" y="626">2.</text>
<text x="476" y="626" textLength="151" lengthAdjust="spacingAndGlyphs">?空?机?系?独立的?控系?。BAS系?采用?准?通信接口</text>
<text x="627" y="628" font-size="9" textLength="83" lengthAdjust="spacingAndGlyphs" font-weight="normal">如?RS232/RS485/RS422</text>
<text x="710" y="630" font-size="5" textLength="37" lengthAdjust="spacingAndGlyphs">?接?文???或采用</text>
<text x="476" y="635" textLength="179" lengthAdjust="spacingAndGlyphs">OPC接口?送?空?机?的???主?行?通信??，?取?空?机?系?的?据 °</text>
</g>

</g>
</svg>
</body></html>
